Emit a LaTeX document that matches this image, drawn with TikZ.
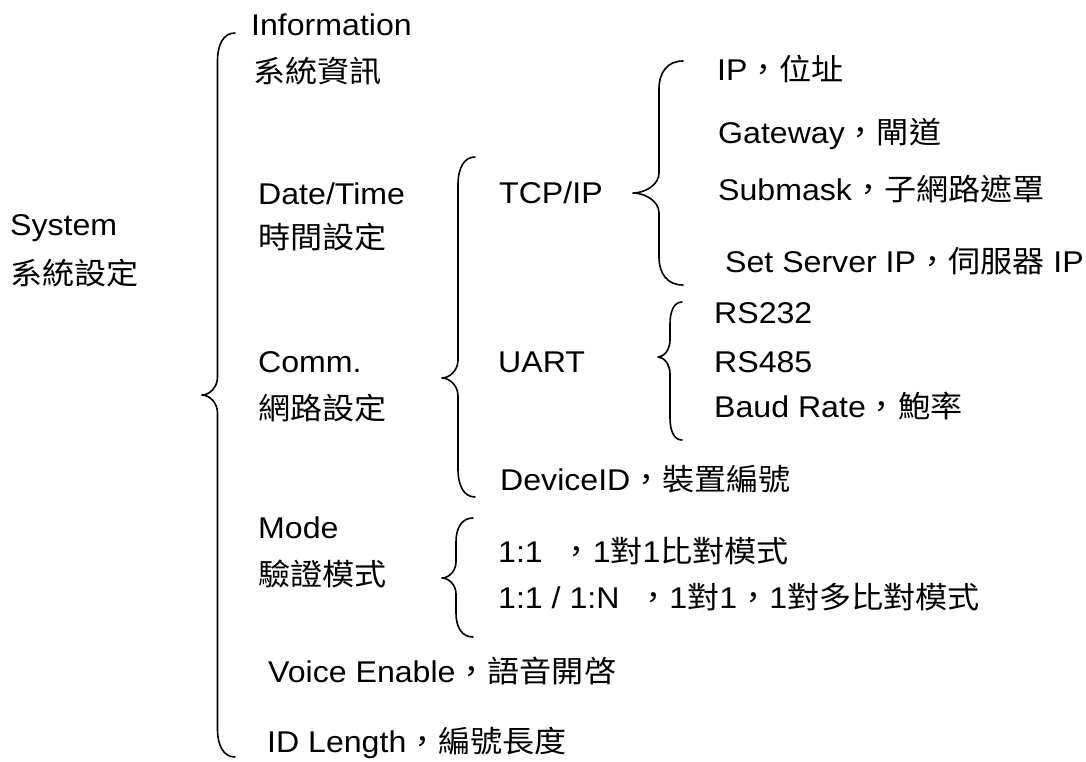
\documentclass[tikz,border=0pt]{standalone}
\usepackage{fontspec}
\setmainfont{Liberation Sans}[FakeStretch=1.07]
\newfontfamily\cjk{Noto Sans CJK TC}[FakeStretch=1.07]
\newcommand\zh[1]{{\cjk #1}}
% #1 x of ends, #2 y top, #3 x of spine, #4 x of tip, #5 y of tip, #6 y bottom, #7 end radius, #8 tip half-height
\newcommand\mybrace[8]{%
  \draw[brc] (#1,#2) .. controls ({#3+0.35*(#1-#3)},#2) and (#3,{#2+0.4*#7}) .. (#3,{#2+#7})
    -- (#3,{#5-#8}) .. controls (#3,{#5-0.4*#8}) and ({#4+0.45*(#3-#4)},#5) .. (#4,#5)
    .. controls ({#4+0.45*(#3-#4)},#5) and (#3,{#5+0.4*#8}) .. (#3,{#5+#8})
    -- (#3,{#6-#7}) .. controls (#3,{#6-0.4*#7}) and ({#3+0.35*(#1-#3)},#6) .. (#1,#6);}
\tikzset{
  txt/.style={font=\fontsize{30}{36}\selectfont, inner sep=0pt, anchor=base west, text=black},
  brc/.style={draw=black, line width=1.6pt, line cap=round, line join=round}
}
\begin{document}
\begin{tikzpicture}[x=1pt,y=-1pt]
\useasboundingbox[fill=white] (0,0) rectangle (1086,761);
% level 0
\node[txt] (sys)   at (10,235) {System};
\node[txt] (sysz)  at (10,284) {\zh{系統設定}};
% level 1
\node[txt] (info)  at (251,35)  {Information};
\node[txt] (infoz) at (253,82)  {\zh{系統資訊}};
\node[txt] (dt)    at (258,204) {Date/Time};
\node[txt] (dtz)   at (258,248) {\zh{時間設定}};
\node[txt] (comm)  at (258,372) {Comm.};
\node[txt] (commz) at (258,419) {\zh{網路設定}};
\node[txt] (mode)  at (258,538) {Mode};
\node[txt] (modez) at (258,585) {\zh{驗證模式}};
\node[txt] (voice) at (268,682) {Voice Enable\zh{，語音開啓}};
\node[txt] (idlen) at (267,752) {ID Length\zh{，編號長度}};
% level 2
\node[txt] (tcp)   at (499,203) {TCP/IP};
\node[txt] (uart)  at (498,372) {UART};
\node[txt] (dev)   at (500,490) {DeviceID\zh{，裝置編號}};
\node[txt] (m1)    at (498,562) {1:1\ \ \zh{，}1\zh{對}1\zh{比對模式}};
\node[txt] (m2)    at (498,608) {1:1 / 1:N\ \ \zh{，}1\zh{對}1\zh{，}1\zh{對多比對模式}};
% level 3
\node[txt] (ip)    at (717,80)  {IP\zh{，位址}};
\node[txt] (gw)    at (718,143) {Gateway\zh{，閘道}};
\node[txt] (sub)   at (718,200) {Submask\zh{，子網路遮罩}};
\node[txt] (srv)   at (725,272) {Set Server IP\zh{，伺服器}\ IP};
\node[txt] (rsa)   at (714,323) {RS232};
\node[txt] (rsb)   at (714,372) {RS485};
\node[txt] (baud)  at (714,417) {Baud Rate\zh{，鮑率}};
% braces
\mybrace{235}{33}{217.5}{202}{395}{757}{28}{18}
\mybrace{475}{157}{458}{442}{378}{497}{28}{18}
\mybrace{683}{61}{659}{633}{193}{285}{28}{20}
\mybrace{682}{302}{670}{658}{357}{440}{22}{17}
\mybrace{473}{518}{456}{442}{578}{637}{24}{16}
\end{tikzpicture}
\end{document}
